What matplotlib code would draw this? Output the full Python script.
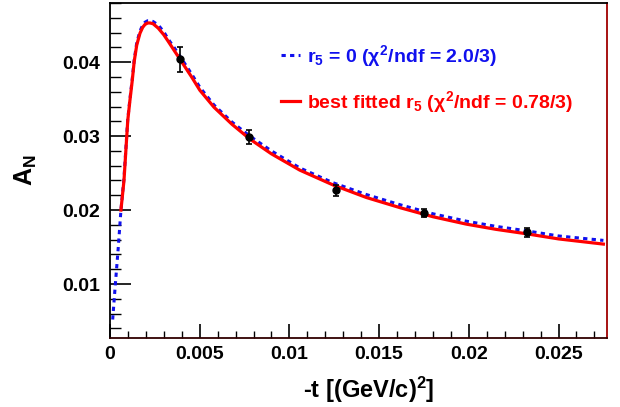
import matplotlib
matplotlib.use('Agg')
import matplotlib.pyplot as plt
from matplotlib.ticker import MultipleLocator

plt.rcParams['font.family'] = ['Liberation Sans', 'DejaVu Sans']
plt.rcParams['font.weight'] = 'bold'
plt.rcParams['mathtext.fontset'] = 'custom'
plt.rcParams['mathtext.rm'] = 'Liberation Sans:bold'
plt.rcParams['mathtext.it'] = 'Liberation Sans:bold'
plt.rcParams['mathtext.bf'] = 'Liberation Sans:bold'
plt.rcParams['mathtext.sf'] = 'Liberation Sans:bold'

# measured asymmetry
t_data = [0.0039, 0.00776, 0.01258, 0.01748, 0.02324]
an_data = [0.0404, 0.0299, 0.0227, 0.0196, 0.0170]
an_err = [0.00167, 0.0009, 0.00075, 0.0006, 0.0006]

# r5 = 0 curve
t_r0 = [0.00015, 0.00028, 0.00046, 0.00061, 0.00078, 0.00099, 0.00111, 0.00124,
        0.00135, 0.00149, 0.00167, 0.00182, 0.00195, 0.0021, 0.00225, 0.0024,
        0.0027, 0.003, 0.00325, 0.0036, 0.0039, 0.00455, 0.00501, 0.0058,
        0.0068, 0.0078, 0.009, 0.01058, 0.01243, 0.01429, 0.0162, 0.018,
        0.01986, 0.0215, 0.0232, 0.025, 0.0275]
an_r0 = [0.0052, 0.0094, 0.0149, 0.0200, 0.0243, 0.0323, 0.0350, 0.0377,
         0.0403, 0.0426, 0.0442, 0.0450, 0.0454, 0.0456, 0.0456, 0.0455,
         0.0450, 0.0441, 0.0431, 0.0419, 0.0408, 0.0384, 0.0366, 0.0342,
         0.0319, 0.0300, 0.0280, 0.0257, 0.0237, 0.0221, 0.0207, 0.0195,
         0.0185, 0.0178, 0.0172, 0.0165, 0.0159]

# best fitted r5 curve
t_fit = [0.00061, 0.00078, 0.00099, 0.00111, 0.00124, 0.00135, 0.00149, 0.00167,
         0.00182, 0.00195, 0.0021, 0.00223, 0.0024, 0.00269, 0.003, 0.00325,
         0.0036, 0.0039, 0.00455, 0.00501, 0.0058, 0.0068, 0.0078, 0.009,
         0.01058, 0.01243, 0.01429, 0.0162, 0.018, 0.01986, 0.0215, 0.0232,
         0.025, 0.0275]
an_fit = [0.0200, 0.0240, 0.0321, 0.0348, 0.0375, 0.0401, 0.0423, 0.0439,
          0.0447, 0.0451, 0.0453, 0.0453, 0.0452, 0.0446, 0.0437, 0.0428,
          0.0415, 0.0404, 0.0380, 0.0362, 0.0339, 0.0316, 0.0296, 0.0276,
          0.0254, 0.0234, 0.0217, 0.0203, 0.0191, 0.0181, 0.0174, 0.0168,
          0.0161, 0.0154]

fig = plt.figure(figsize=(6.2, 4.07), dpi=100)
ax = fig.add_axes([0.1774, 0.1695, 0.8016, 0.8231])

l0, = ax.plot(t_r0, an_r0, color='#1010ee', lw=2.2, linestyle=(0, (1.4, 1.4)),
              label=r'r$_5$ = 0 ($\chi^2$/ndf = 2.0/3)')
l1, = ax.plot(t_fit, an_fit, color='#ff0000', lw=2.3,
              label=r'best fitted r$_5$ ($\chi^2$/ndf = 0.78/3)')
ax.errorbar(t_data, an_data, yerr=an_err, fmt='o', color='black', ms=5,
            elinewidth=1.2, capsize=2, capthick=1.2, zorder=5)

ax.set_xlim(0, 0.0277)
ax.set_ylim(0.0027, 0.048)
ax.xaxis.set_minor_locator(MultipleLocator(0.001))
ax.yaxis.set_minor_locator(MultipleLocator(0.002))
ax.set_xticks([0, 0.005, 0.01, 0.015, 0.02, 0.025])
ax.set_xticklabels(['0', '0.005', '0.01', '0.015', '0.02', '0.025'])
ax.set_yticks([0.01, 0.02, 0.03, 0.04])
ax.set_yticklabels(['0.01', '0.02', '0.03', '0.04'])

ax.tick_params(axis='x', which='major', direction='in', length=10, width=1.2, labelsize=14, pad=6)
ax.tick_params(axis='y', which='major', direction='in', length=15, width=1.2, labelsize=14, pad=7)
ax.tick_params(axis='x', which='minor', direction='in', length=5, width=1.0)
ax.tick_params(axis='y', which='minor', direction='in', length=8, width=1.0)

for s in ax.spines.values():
    s.set_linewidth(1.3)
ax.spines['right'].set_color('#a00000')
ax.spines['bottom'].set_color('#300000')

ax.set_xlabel(r'-t [(GeV/c)$^2$]', fontsize=17, fontweight='bold', labelpad=8)
ax.xaxis.label.set_x(0.52)
ax.set_ylabel(r'A$_\mathrm{N}$', fontsize=18, fontweight='bold', labelpad=17)

leg = ax.legend(handles=[l0, l1], loc='upper left', bbox_to_anchor=(0.345, 0.881),
                frameon=False, fontsize=14, handlelength=0.95, handletextpad=0.35,
                labelspacing=1.05, borderaxespad=0, borderpad=0)
for txt, c in zip(leg.get_texts(), ['#1010ee', '#ff0000']):
    txt.set_color(c)
    txt.set_fontweight('bold')

fig.savefig('out.png', dpi=100)
